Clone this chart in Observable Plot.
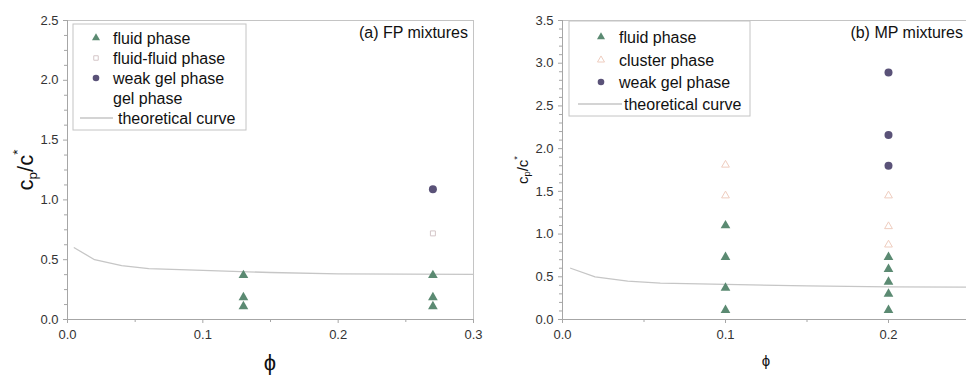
<!DOCTYPE html>
<html>
<head>
<meta charset="utf-8">
<script src="https://cdn.jsdelivr.net/npm/d3@7"></script>
<script src="https://cdn.jsdelivr.net/npm/@observablehq/plot@0.6"></script>
<style>
  html, body { margin: 0; padding: 0; background: #fff; }
  #wrap { position: relative; width: 966px; height: 376px; overflow: hidden; font-family: "Liberation Sans", Arial, sans-serif; }
  #left, #right { position: absolute; top: 0; }
  #left { left: 0; }
  #right { left: 483px; }
  svg { overflow: hidden; }
</style>
</head>
<body>
<div id="wrap"><div id="left"></div><div id="right"></div></div>
<script>
// ---------- data ----------
// theoretical curve (shared by both panels)
const curvePhi = [0.005, 0.02, 0.04, 0.06, 0.1, 0.15, 0.2, 0.3];
const curveCp  = [0.60, 0.50, 0.45, 0.426, 0.41, 0.393, 0.382, 0.378];

// (a) FP mixtures
const fpFluidPhi = [0.13, 0.13, 0.13, 0.27, 0.27, 0.27];
const fpFluidCp  = [0.37, 0.185, 0.11, 0.37, 0.185, 0.11];
const fpFluidFluidPhi = [0.27];
const fpFluidFluidCp  = [0.72];
const fpWeakGelPhi = [0.27];
const fpWeakGelCp  = [1.09];

// (b) MP mixtures
const mpFluidPhi = [0.1, 0.1, 0.1, 0.1, 0.2, 0.2, 0.2, 0.2, 0.2];
const mpFluidCp  = [1.10, 0.73, 0.37, 0.11, 0.73, 0.59, 0.44, 0.30, 0.11];
const mpClusterPhi = [0.1, 0.1, 0.2, 0.2, 0.2];
const mpClusterCp  = [1.81, 1.45, 1.45, 1.09, 0.875];
const mpWeakGelPhi = [0.2, 0.2, 0.2];
const mpWeakGelCp  = [2.89, 2.16, 1.80];

// ticks
const fpXTicks = [0, 0.1, 0.2, 0.3];
const fpXMinor = [0.05, 0.15, 0.25];
const fpYTicks = [0, 0.5, 1.0, 1.5, 2.0, 2.5];
const mpXTicks = [0, 0.1, 0.2];
const mpXMinor = [0.05, 0.15];
const mpYTicks = [0, 0.5, 1.0, 1.5, 2.0, 2.5, 3.0, 3.5];

const fpLegend = ["fluid phase", "fluid-fluid phase", "weak gel phase", "gel phase", "theoretical curve"];
const mpLegend = ["fluid phase", "cluster phase", "weak gel phase", "theoretical curve"];

// ---------- style ----------
const C = {
  fluid: "#5b8a72", gel: "#5a5278", cluster: "#efcdbf", ff: "#d4c6c8",
  curve: "#c6c6c6", axis: "#a6a6a6", frame: "#c4c4c4", text: "#333"
};
const FONT = '"Liberation Sans", Arial, sans-serif';

const pts = (xs, ys) => xs.map((x, i) => ({x, y: ys[i]}));
const curve = pts(curvePhi, curveCp);

function axes(xTicks, xMinor, yTicks, yMinor, xMax, yMax) {
  return [
    Plot.ruleY([yMax], {stroke: C.frame}),
    Plot.ruleX([xMax], {stroke: C.frame}),
    Plot.ruleY([0], {stroke: C.axis}),
    Plot.ruleX([0], {stroke: C.axis}),
    Plot.axisX({ticks: xTicks, tickFormat: d3.format(".1f"), tickSize: 4, tickPadding: 6, stroke: C.axis, fill: C.text, label: null}),
    Plot.axisX({ticks: xMinor, tickSize: 3, stroke: C.axis, fill: "none", label: null}),
    Plot.axisY({ticks: yTicks, tickFormat: d3.format(".1f"), tickSize: 4, tickPadding: 5, stroke: C.axis, fill: C.text, label: null}),
    Plot.axisY({ticks: yMinor, tickSize: 3, stroke: C.axis, fill: "none", label: null})
  ];
}

const fpYMinor = d3.range(0, 2.5001, 0.125).filter(v => Math.abs(v * 2 - Math.round(v * 2)) > 1e-6);
const mpYMinor = d3.range(0, 3.5001, 0.1).map(v => +v.toFixed(2)).filter(v => Math.abs(v * 2 - Math.round(v * 2)) > 1e-6);

// ---------- left panel ----------
const left = Plot.plot({
  width: 483, height: 376,
  marginTop: 20, marginBottom: 57, marginLeft: 67, marginRight: 10,
  style: {fontFamily: FONT, fontSize: "13px", color: C.text, background: "white"},
  x: {domain: [0, 0.3], range: [67, 473]},
  y: {domain: [0, 2.5]},
  marks: [
    ...axes(fpXTicks, fpXMinor, fpYTicks, fpYMinor, 0.3, 2.5),
    Plot.line(curve, {x: "x", y: "y", stroke: C.curve, strokeWidth: 1.3}),
    Plot.dot(pts(fpFluidPhi, fpFluidCp), {x: "x", y: "y", symbol: "triangle", r: 3.6, fill: C.fluid, stroke: "none"}),
    Plot.dot(pts(fpFluidFluidPhi, fpFluidFluidCp), {x: "x", y: "y", symbol: "square", r: 2.8, fill: "white", stroke: C.ff, strokeWidth: 1}),
    Plot.dot(pts(fpWeakGelPhi, fpWeakGelCp), {x: "x", y: "y", r: 4, fill: C.gel, stroke: "none"})
  ]
});

// ---------- right panel ----------
const right = Plot.plot({
  width: 483, height: 376,
  marginTop: 20, marginBottom: 57, marginLeft: 79, marginRight: 0,
  style: {fontFamily: FONT, fontSize: "13px", color: C.text, background: "white"},
  x: {domain: [0, 0.25], range: [79, 486.5]},
  y: {domain: [0, 3.5]},
  marks: [
    ...axes(mpXTicks, mpXMinor, mpYTicks, mpYMinor, 0.25, 3.5),
    Plot.line(curve, {x: "x", y: "y", stroke: C.curve, strokeWidth: 1.3}),
    Plot.dot(pts(mpFluidPhi, mpFluidCp), {x: "x", y: "y", symbol: "triangle", r: 3.6, fill: C.fluid, stroke: "none"}),
    Plot.dot(pts(mpClusterPhi, mpClusterCp), {x: "x", y: "y", symbol: "triangle", r: 2.9, fill: "white", stroke: C.cluster, strokeWidth: 1}),
    Plot.dot(pts(mpWeakGelPhi, mpWeakGelCp), {x: "x", y: "y", r: 4, fill: C.gel, stroke: "none"})
  ]
});

document.getElementById("left").appendChild(left);
document.getElementById("right").appendChild(right);

// ---------- decorations: titles, legends ----------
function yTitle(svg, cx, cy, size) {
  const t = d3.select(svg).append("text")
    .attr("transform", `translate(${cx},${cy}) rotate(-90)`)
    .attr("text-anchor", "middle").attr("dominant-baseline", "central")
    .attr("fill", "#111").attr("font-family", FONT).attr("font-size", size);
  t.append("tspan").text("c");
  t.append("tspan").attr("font-size", size * 0.62).attr("baseline-shift", "sub").text("p");
  t.append("tspan").text("/c");
  t.append("tspan").attr("font-size", size * 0.62).attr("baseline-shift", "super").text("*");
}
function xTitle(svg, cx, cy, size) {
  d3.select(svg).append("text").attr("x", cx).attr("y", cy)
    .attr("text-anchor", "middle").attr("dominant-baseline", "central")
    .attr("fill", "#111").attr("font-family", FONT).attr("font-size", size).text("ϕ");
}
function annot(svg, x, y, s) {
  d3.select(svg).append("text").attr("x", x).attr("y", y)
    .attr("text-anchor", "end").attr("dominant-baseline", "central")
    .attr("fill", "#111").attr("font-family", FONT).attr("font-size", 16).text(s);
}
function legend(svg, box, rows) {
  const g = d3.select(svg).append("g");
  g.append("rect").attr("x", box.x).attr("y", box.y).attr("width", box.w).attr("height", box.h)
    .attr("fill", "white").attr("stroke", C.frame).attr("stroke-width", 1);
  rows.forEach(r => {
    if (r.kind === "line") {
      g.append("line").attr("x1", r.lx1).attr("x2", r.lx2).attr("y1", r.y).attr("y2", r.y)
        .attr("stroke", C.curve).attr("stroke-width", 1.3);
    } else if (r.kind) {
      const sym = {tri: d3.symbolTriangle, sq: d3.symbolSquare, circ: d3.symbolCircle}[r.kind];
      g.append("path").attr("transform", `translate(${r.sx},${r.y})`)
        .attr("d", d3.symbol(sym, r.size)())
        .attr("fill", r.fill).attr("stroke", r.stroke || "none").attr("stroke-width", 1);
    }
    g.append("text").attr("x", r.tx).attr("y", r.y)
      .attr("text-anchor", "start").attr("dominant-baseline", "central")
      .attr("fill", "#111").attr("font-family", FONT).attr("font-size", 16).text(r.label);
  });
}

yTitle(left, 25, 170, 22);
xTitle(left, 270, 362, 22);
annot(left, 468, 32, "(a) FP mixtures");
legend(left, {x: 73, y: 24, w: 173, h: 106}, [
  {kind: "tri", size: Math.PI * 3 * 3, fill: C.fluid, sx: 96, tx: 113, y: 38, label: fpLegend[0]},
  {kind: "sq", size: 20, fill: "white", stroke: C.ff, sx: 96, tx: 113, y: 58, label: fpLegend[1]},
  {kind: "circ", size: Math.PI * 3.3 * 3.3, fill: C.gel, sx: 96, tx: 113, y: 78, label: fpLegend[2]},
  {kind: null, tx: 113, y: 98, label: fpLegend[3]},
  {kind: "line", lx1: 80, lx2: 113, tx: 118, y: 118, label: fpLegend[4]}
]);

yTitle(right, 39, 170, 15);
xTitle(right, 283, 360, 15);
annot(right, 480, 32, "(b) MP mixtures");
legend(right, {x: 86, y: 21, w: 181, h: 95}, [
  {kind: "tri", size: Math.PI * 3 * 3, fill: C.fluid, sx: 118, tx: 136, y: 37, label: mpLegend[0]},
  {kind: "tri", size: Math.PI * 2.6 * 2.6, fill: "white", stroke: C.cluster, sx: 118, tx: 136, y: 60, label: mpLegend[1]},
  {kind: "circ", size: Math.PI * 3.3 * 3.3, fill: C.gel, sx: 118, tx: 136, y: 82, label: mpLegend[2]},
  {kind: "line", lx1: 95, lx2: 139, tx: 141, y: 104, label: mpLegend[3]}
]);
</script>
</body>
</html>
